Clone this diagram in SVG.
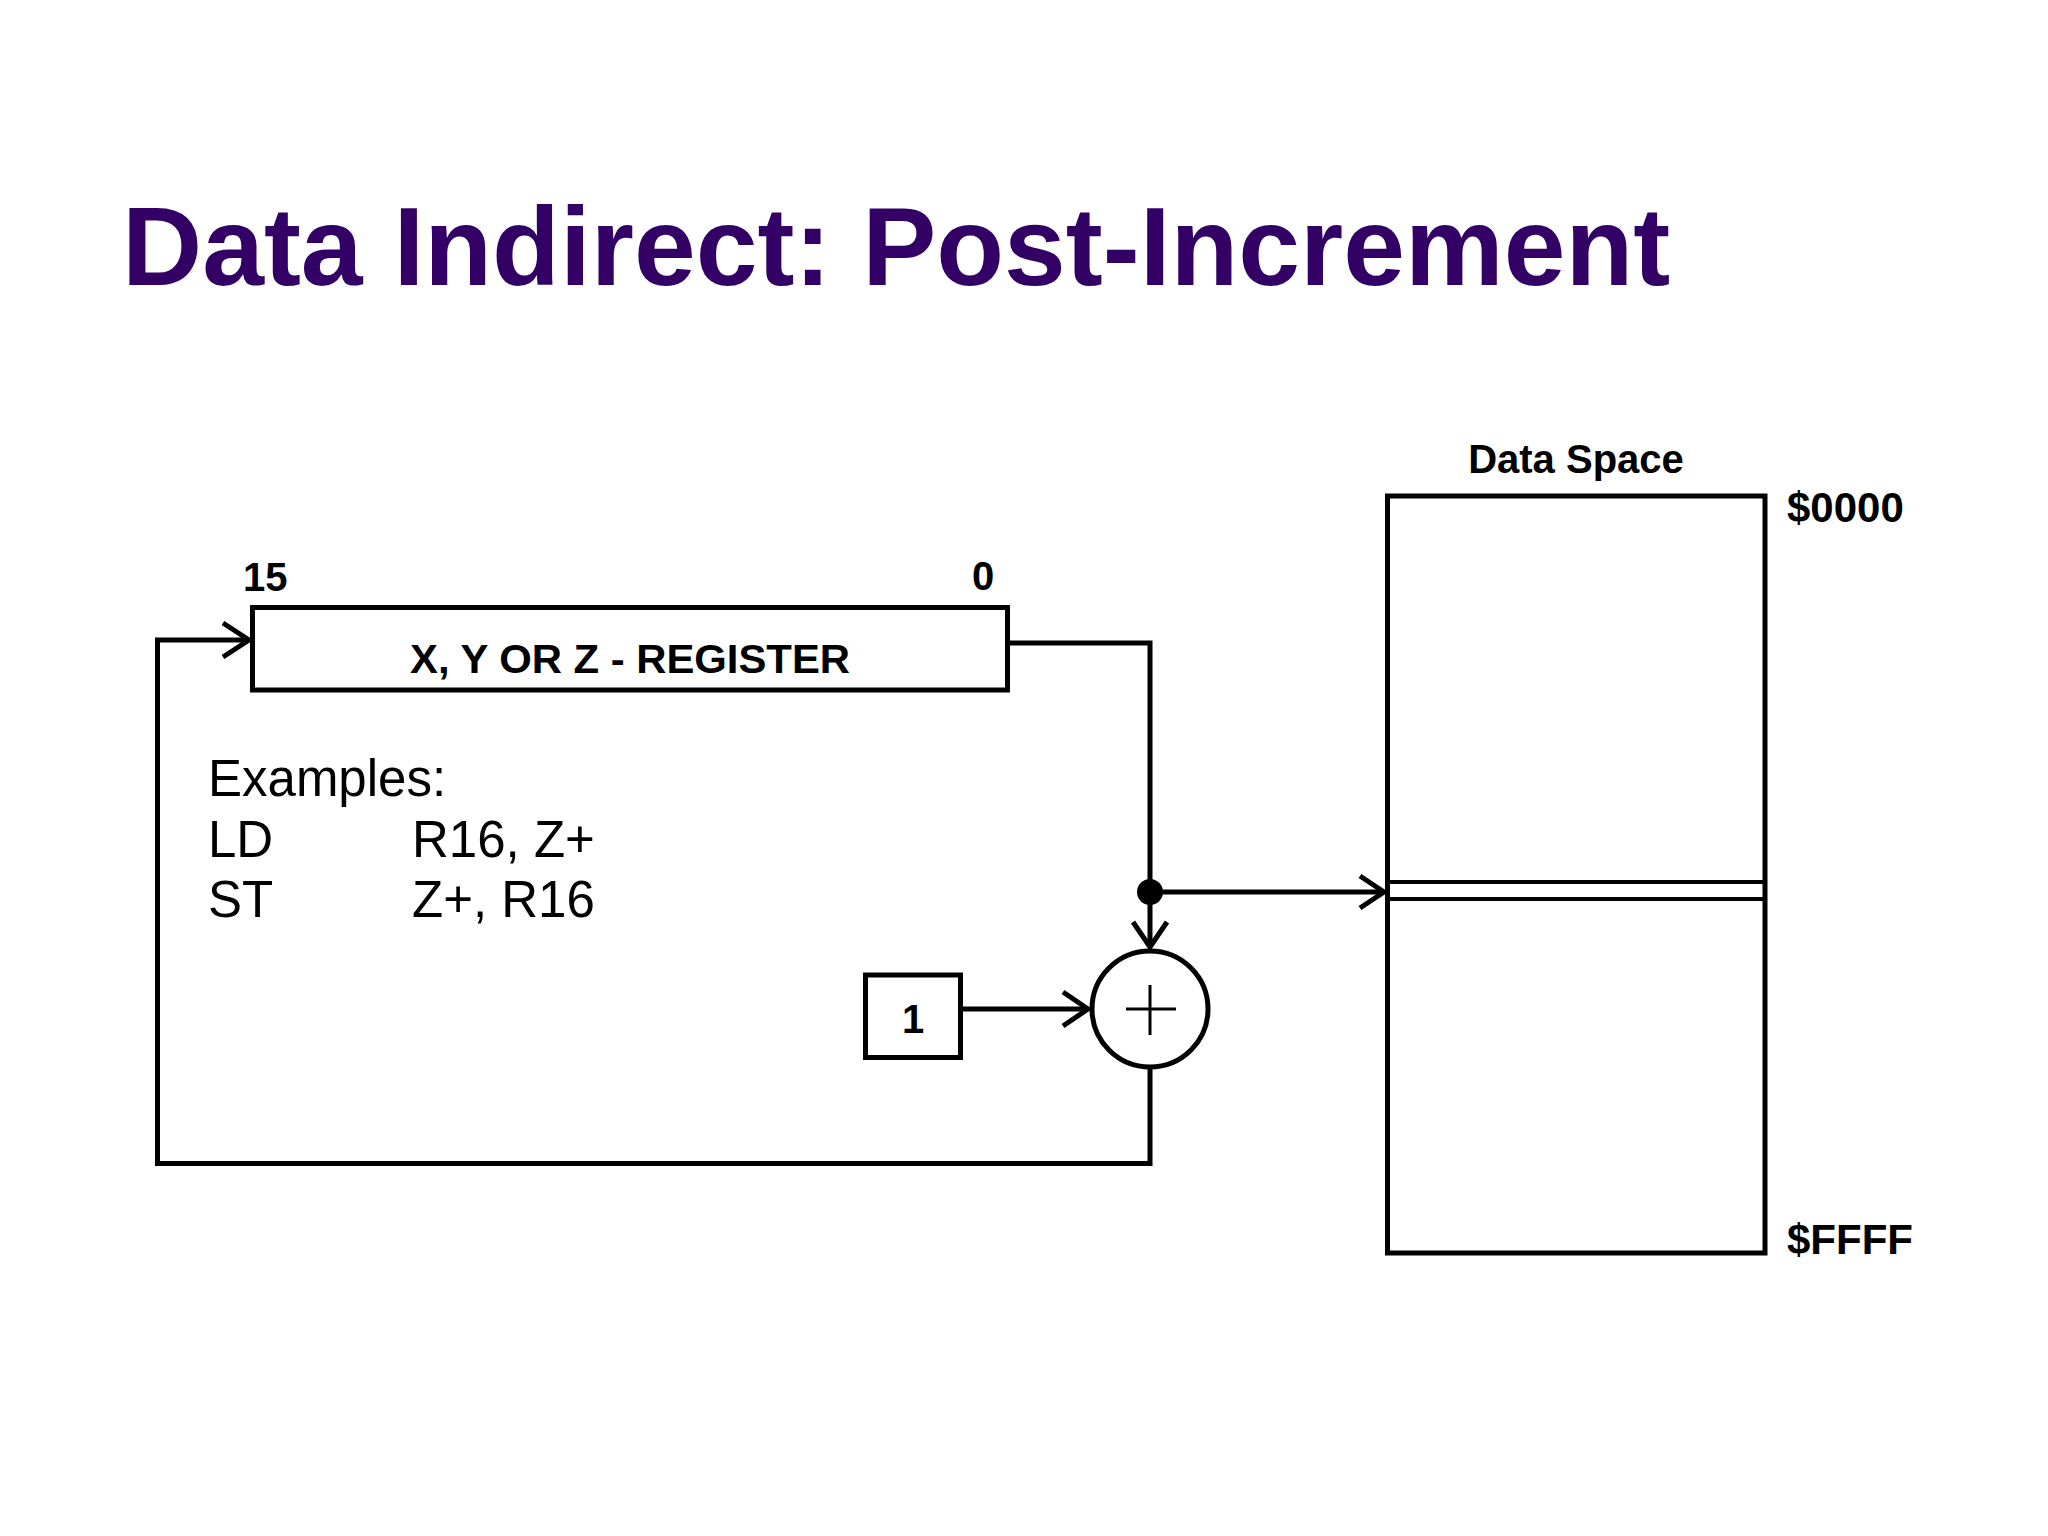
<svg xmlns="http://www.w3.org/2000/svg" width="2048" height="1536" viewBox="0 0 2048 1536">
<defs>
<style>
.title{font-family:"Liberation Sans",Arial,sans-serif;font-weight:bold;font-size:111px;fill:#330066}
.lbl{font-family:"Liberation Sans",Arial,sans-serif;font-weight:bold;font-size:40px;fill:#000}
.addr{font-size:42px}
.ex{font-family:"Liberation Sans",Arial,sans-serif;font-size:51px;fill:#000}
.box{fill:#fff;stroke:#000;stroke-width:5}
.wire{fill:none;stroke:#000;stroke-width:5}
.head{fill:none;stroke:#000;stroke-width:5;stroke-linejoin:miter}
.thin{fill:none;stroke:#000;stroke-width:3}
</style>
</defs>
<rect width="2048" height="1536" fill="#fff"/>
<text class="title" x="122" y="285">Data Indirect: Post-Increment</text>

<g id="connectors">
<path class="wire" d="M1007.5 643 H1150 V946"/>
<path class="head" d="M1133 922 L1150 947 L1167 922"/>
<path class="wire" d="M1150 1069 V1163.5 H157.5 V640 H248"/>
<path class="head" d="M223 623 L249 640 L223 657"/>
<path class="wire" d="M963 1009 H1087"/>
<path class="head" d="M1063 992 L1088 1009 L1063 1026"/>
<path class="wire" d="M1150 892 H1383"/>
<path class="head" d="M1360 876 L1384 892 L1360 908"/>
<circle cx="1150" cy="892" r="13" fill="#000"/>
</g>

<g id="register">
<rect class="box" x="252.5" y="607.5" width="755" height="82.5"/>
<text class="lbl" x="410" y="673" font-size="41" textLength="440" lengthAdjust="spacingAndGlyphs">X, Y OR Z - REGISTER</text>
<text class="lbl" x="243" y="591">15</text>
<text class="lbl" x="972" y="590">0</text>
</g>

<g id="one">
<rect class="box" x="865.5" y="975" width="95" height="82.5"/>
<text class="lbl" x="913" y="1033" text-anchor="middle">1</text>
</g>

<g id="adder">
<circle class="box" cx="1150" cy="1009" r="58"/>
<path class="thin" d="M1126 1009 H1176 M1150 985 V1035"/>
</g>

<g id="dataspace">
<text class="lbl" x="1576" y="473" text-anchor="middle">Data Space</text>
<rect class="box" x="1387.5" y="496" width="377.5" height="757"/>
<path fill="none" stroke="#000" stroke-width="4" d="M1387.5 882 H1765 M1387.5 899 H1765"/>
<text class="lbl addr" x="1787" y="522">$0000</text>
<text class="lbl addr" x="1787" y="1254">$FFFF</text>
</g>

<g id="examples">
<text class="ex" x="208" y="796">Examples:</text>
<text class="ex" x="208" y="857">LD</text>
<text class="ex" x="412" y="857">R16, Z+</text>
<text class="ex" x="208" y="917">ST</text>
<text class="ex" x="412" y="917">Z+, R16</text>
</g>
</svg>
